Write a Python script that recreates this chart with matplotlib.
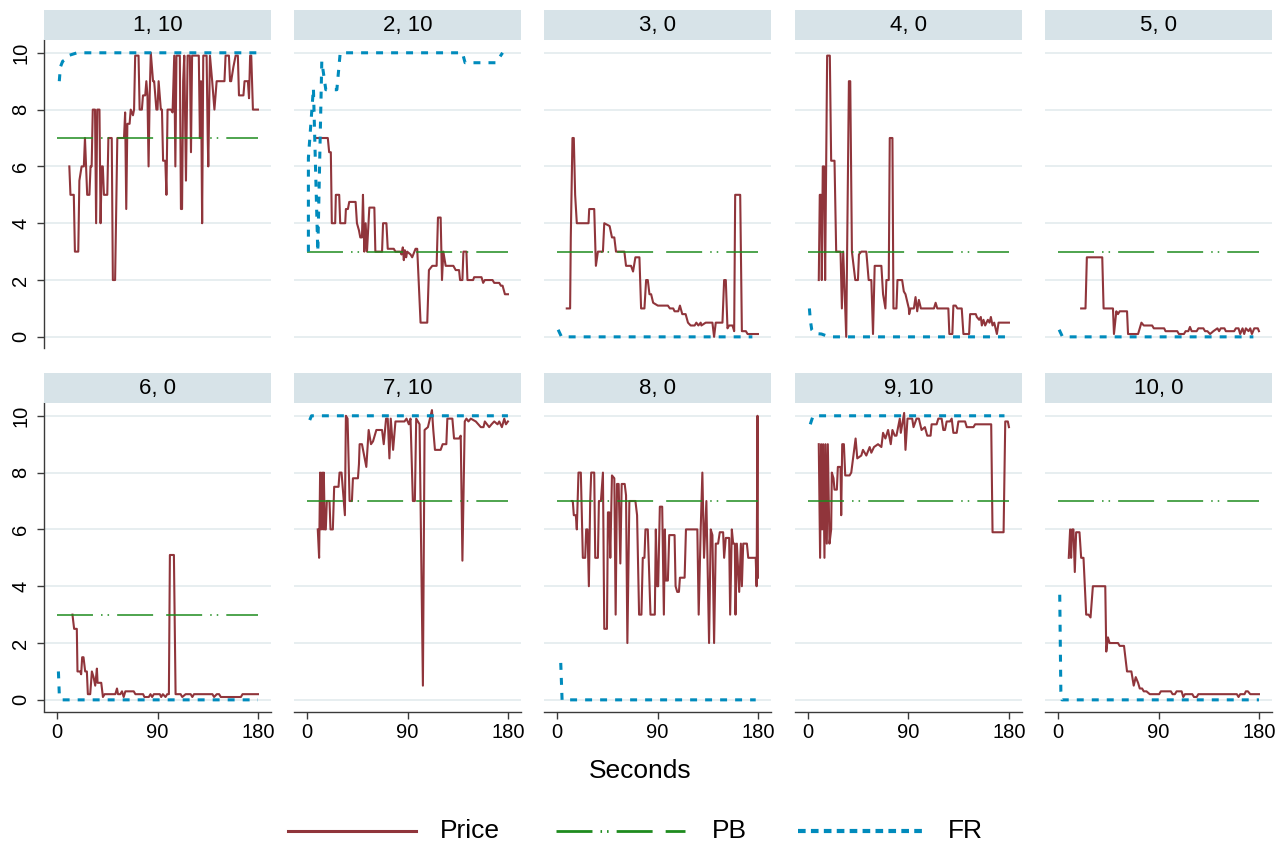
import matplotlib
matplotlib.use('Agg')
import matplotlib.pyplot as plt
from matplotlib.lines import Line2D
from matplotlib.patches import Rectangle

plt.rcParams['font.family'] = ['Liberation Sans', 'DejaVu Sans']
plt.rcParams['lines.scale_dashes'] = False

# ---------------- data ----------------
panel_titles = ["1, 10", "2, 10", "3, 0", "4, 0", "5, 0",
                "6, 0", "7, 10", "8, 0", "9, 10", "10, 0"]
pb_values = [7, 3, 3, 3, 3, 3, 7, 7, 7, 7]
x_ticks = [0, 90, 180]
y_ticks = [0, 2, 4, 6, 8, 10]
legend_labels = ["Price", "PB", "FR"]

p1_t = [11, 12, 15, 16, 19, 20, 22, 24, 25, 27, 29, 30, 31, 32, 34, 35, 36, 38, 39, 40, 41, 42, 45, 46, 49, 50, 52, 54,
        60, 61, 62, 63, 65, 66, 68, 69, 70, 73, 74, 76, 77, 79, 80, 81, 82, 83, 84, 86, 87, 89, 90, 91, 93, 94, 95, 97,
        98, 99, 102, 103.5, 105, 106, 107, 110, 111, 112, 113, 114, 115.5, 117, 119, 120, 121, 127, 128, 129, 130, 131,
        134, 135, 135.5, 137, 139, 141, 143, 150, 151, 154, 155, 156, 158, 160, 162, 163, 167, 168, 171, 172, 173, 174,
        175.5, 180]
p1_y = [6, 5, 5, 3, 3, 5.5, 6, 6, 7, 5, 5, 6, 6, 8, 8, 4, 8, 8, 4, 6, 6, 5, 5, 7, 7, 2, 2, 7,
        7, 7.9, 4.5, 7.5, 7.5, 8, 7.8, 8, 9.9, 9.9, 8, 8, 8.5, 8.5, 9, 8.5, 6, 8.5, 10, 9, 9, 8, 8, 9, 8, 8, 6.2, 6.2,
        5, 8, 8, 7.9, 9.9, 6, 9.9, 9.9, 4.5, 4.5, 9, 9.9, 5.5, 9.9, 9.9, 6.5, 9.9, 9.9, 7, 9, 4, 9.9,
        9.9, 7, 6, 9.9, 9, 8, 9, 9, 9.9, 9.9, 9, 9, 9.5, 9.9, 9.9, 8.5, 8.5, 9, 9, 8.4, 9.9, 9.9,
        8, 8]
f1_t = [2, 3, 5, 7, 10, 18, 180]
f1_y = [9.0, 9.5, 9.7, 9.75, 9.9, 10, 10]

p2_t = [8, 18.6, 19.8, 21.3, 22.2, 25.2, 25.8, 28.8, 29.7, 34.2, 34.8, 36.6, 37.8, 43.5, 44.7, 46.5, 47.7, 49.2,
        50.1, 51.3, 52.5, 53.7, 55.8, 60.3, 61.2, 67.2, 68.1, 71.1, 72.3, 77.7, 79.2, 83.7, 84.6, 85.8, 86.7, 87.6,
        88.8, 89.7, 92.7, 94.2, 97.2, 98.7, 101.7, 107.7, 109.2, 112.2, 116.1, 117.3, 119.7, 120.9, 122.1, 124.2,
        131.1, 133.2, 136.2, 137.1, 139.2, 140.1, 142.8, 143.7, 148.8, 149.7, 156.3, 157.8, 159.3, 166.2, 167.7,
        172.2, 173.7, 175.2, 177.3, 180]
p2_y = [7, 7, 6.5, 6.5, 4, 4, 5, 5, 4, 4, 4.5, 4.5, 4.75, 4.75, 4, 3.75, 3.5, 3.5,
        5, 3, 4, 3, 4.55, 4.55, 3, 3, 4, 4, 3.1, 3.1, 3, 3, 2.9, 3.15, 2.7, 3.05,
        2.8, 3.0, 2.9, 2.8, 3.1, 3.1, 0.5, 0.5, 2.35, 2.5, 2.5, 4.2, 4.2, 2, 3, 2.5,
        2.5, 2.35, 2.35, 2, 2, 3, 3, 2, 2, 2.1, 2.1, 1.9, 2.0, 2.0, 1.9,
        1.9, 1.8, 1.8, 1.5, 1.5]
f2_t = [1.2, 1.2, 5.7, 9.6, 13.2, 16.8, 26.7, 29.7, 35.7, 139.2, 141.6, 169.2, 175.2]
f2_y = [3, 6.3, 8.75, 3, 9.7, 8.7, 8.7, 10, 10, 10, 9.65, 9.65, 10]

p3_t = [8.7, 11.7, 12.3, 13.8, 15, 16.2, 17.7, 28.2, 28.8, 33.3, 34.8, 36.6, 41.1, 42.3, 47.1, 49.2, 51.3, 52.8,
        60.3, 61.8, 66.3, 68.1, 70.2, 73.8, 75.3, 78.3, 79.8, 81.3, 82.8, 84.3, 86.1, 90.3, 99.3, 101.1, 104.1, 105.3,
        108.6, 110.1, 112.2, 115.2, 117.3, 119.7, 123.3, 124.8, 126.6, 128.7, 129.3, 133.2, 139.2, 140.7, 142.2,
        148.2, 149.7, 151.2, 152.7, 154.2, 157.2, 158.7, 159.6, 164.1, 165.6, 169.2, 170.7, 180]
p3_y = [1, 1, 3.5, 7, 7, 5, 4, 4, 4.5, 4.5, 2.5, 3, 3, 4, 3.9, 3.5, 3.5, 3,
        3, 2.5, 2.5, 2.3, 2.8, 2.8, 1, 1, 2, 2, 1.5, 1.5, 1.2, 1.1, 1.1, 1, 1, 0.9,
        0.9, 1.1, 0.8, 0.8, 0.5, 0.4, 0.4, 0.5, 0.4, 0.5, 0.4, 0.5, 0.5, 0, 0.5,
        0.5, 2, 2, 0.3, 0.4, 0.4, 0.2, 5, 5, 0.2, 0.2, 0.1, 0.1]
f3_t = [1, 4, 175]
f3_y = [0.25, 0, 0]

p4_t = [9.6, 10.5, 11.7, 12.3, 13.2, 14.4, 15.3, 17.1, 19.5, 20.7, 23.7, 25.2, 29.1, 30.3, 31.5, 34.2, 36.6, 37.8,
        39.3, 40.8, 42.3, 44.7, 45.6, 47.7, 52.2, 54.3, 56.7, 58.2, 59.7, 65.7, 67.2, 69.3, 70.2, 72.3, 73.2, 75.6,
        76.5, 79.2, 80.1, 84.3, 85.8, 87.3, 90.3, 90.6, 91.8, 94.8, 96.3, 97.8, 99.3, 101.1, 112.8, 114.3, 115.8,
        125.7, 126.6, 129.3, 130.2, 132.3, 133.8, 137.7, 139.2, 144.3, 145.2, 150.3, 151.2, 153.3, 154.8, 155.7,
        157.2, 158.7, 161.1, 162.6, 163.8, 165.3, 166.8, 169.2, 170.7, 180]
p4_y = [2, 5, 5, 2, 6, 6, 2, 9.9, 9.9, 6.2, 6.2, 3, 3, 1, 3, 0, 9, 9,
        3, 2.5, 2, 2, 2.9, 3, 3, 2, 2, 0.1, 2.5, 2.5, 1.5, 1, 2, 2, 7, 7,
        1, 1, 2, 2, 1.6, 1.5, 1, 0.8, 1, 1, 1.4, 0.9, 1.3, 1, 1, 1.2, 1,
        1, 0.1, 0.1, 1.1, 1.1, 1, 1, 0.1, 0.1, 0.8, 0.8, 0.7, 0.6, 0.7, 0.4,
        0.6, 0.4, 0.6, 0.5, 0.7, 0.4, 0.5, 0.1, 0.5, 0.5]
f4_t = [1.2, 2, 3.3, 6, 12, 19, 180]
f4_y = [1.0, 0.6, 0.25, 0.12, 0.1, 0, 0]

p5_t = [20.7, 24.6, 25.8, 39.6, 40.8, 49.2, 50.1, 52.2, 53.7, 55.2, 61.8, 62.7, 71.7, 74.7, 76.8, 84.3, 85.8, 95.1,
        96.3, 106.8, 108.3, 112.8, 114.3, 116.7, 118.2, 119.7, 124.2, 125.7, 130.2, 131.7, 133.8, 136.2, 139.2,
        142.8, 144.3, 145.8, 149.1, 150.3, 157.8, 159.3, 161.7, 163.2, 165.3, 166.8, 168.3, 170.7, 172.2, 173.7,
        175.8, 179, 180]
p5_y = [1, 1, 2.8, 2.8, 1, 1, 0.1, 0.9, 0.8, 0.9, 0.9, 0.1, 0.1, 0.5, 0.4, 0.4, 0.3, 0.3,
        0.2, 0.2, 0.1, 0.1, 0.2, 0.2, 0.35, 0.2, 0.2, 0.3, 0.3, 0.2, 0.2, 0.1, 0.2,
        0.3, 0.2, 0.3, 0.3, 0.2, 0.2, 0.3, 0.3, 0.1, 0.3, 0.1, 0.3, 0.2, 0.3, 0.1,
        0.3, 0.3, 0.2]
f5_t = [1, 4, 175]
f5_y = [0.25, 0, 0]

p6_t = [13.8, 15.3, 17.7, 18.3, 20.7, 21.6, 22.5, 23.7, 25.2, 26.7, 27.6, 29.7, 31.2, 32.7, 34.2, 35.7, 36.3, 39.6,
        41.1, 42.6, 52.2, 53.7, 54.6, 56.7, 58.2, 59.7, 61.2, 68.7, 70.2, 77.1, 78.3, 82.2, 83.7, 85.2, 86.7, 92.1,
        93.3, 94.8, 97.2, 98.7, 100.2, 101.1, 104.7, 106.2, 110.7, 112.2, 115.2, 119.7, 121.2, 122.7, 139.2, 140.7,
        143.1, 145.2, 146.7, 164.7, 166.2, 180]
p6_y = [3, 2.5, 2.5, 1, 1, 0.9, 1.5, 1.5, 1, 1, 0.2, 0.2, 1, 0.8, 0.5, 1.1, 0.6, 0.6,
        0.1, 0.2, 0.2, 0.4, 0.2, 0.2, 0.3, 0.1, 0.3, 0.3, 0.2, 0.2, 0.1, 0.1, 0.2, 0.1, 0.2, 0.2,
        0.1, 0.2, 0.1, 0.2, 0.2, 5.1, 5.1, 0.2, 0.2, 0.1, 0.2, 0.2, 0.1, 0.2, 0.2, 0.1,
        0.2, 0.2, 0.1, 0.1, 0.2, 0.2]
f6_t = [1.2, 2, 4, 180]
f6_y = [1.0, 0.2, 0, 0]

p7_t = [9.6, 10.8, 11.7, 12.6, 13.5, 14.4, 15, 15.9, 16.8, 17.7, 20.1, 21, 23.1, 24.3, 28.2, 29.1, 30.9, 33.9,
        34.8, 36.3, 38.1, 40.2, 41.1, 45.6, 46.5, 47.1, 49.2, 53.1, 55.2, 57.3, 59.1, 62.1, 67.2, 68.7, 70.8, 72.3,
        73.8, 75, 77.1, 79.2, 87.3, 89.1, 91.2, 92.7, 94.8, 96.6, 97.8, 100.8, 103.8, 105.3, 108.3, 110.1, 111.9,
        113.1, 114.6, 119.7, 121.5, 124.8, 125.7, 130.2, 131.7, 136.2, 137.7, 139.2, 141.3, 142.8, 144.6, 146.7,
        151.2, 155.7, 158.1, 159.3, 163.2, 165.3, 167.7, 170.7, 172.2, 174.6, 176.7, 178.2, 180]
p7_y = [6, 5, 8, 6, 8, 6, 8, 6, 6, 7, 7, 6, 6, 7.5, 7.5, 8, 8, 6.5,
        10, 9.9, 7, 7, 7.8, 7.8, 8.3, 9, 9, 8.2, 9.5, 9, 9.1, 9.5, 9.5, 9, 9.9, 9.9,
        8.5, 9.9, 8.8, 9.8, 9.8, 9.9, 9.7, 9.9, 7, 7, 9.9, 9.7, 0.5, 9.5, 9.6, 9.9, 10.2,
        9.5, 8.8, 8.8, 9, 9, 9.9, 9.9, 9.2, 9.2, 9.3, 4.9, 9.8, 9.9, 9.8, 9.9,
        9.8, 9.6, 9.6, 9.8, 9.6, 9.7, 9.8, 9.7, 9.8, 9.6, 9.9, 9.7, 9.8]
f7_t = [2.4, 4, 180]
f7_y = [9.85, 10, 10]

p8_t = [13.2, 14.1, 15, 16.8, 17.7, 19.2, 21.3, 23.1, 25.2, 26.1, 27.3, 28.5, 29.7, 30.6, 33.3, 34.2, 36.6, 37.5,
        39.3, 41.1, 42.3, 44.7, 45.6, 46.8, 47.7, 49.2, 51.3, 52.5, 53.7, 55.2, 56.7, 57.9, 60.6, 61.8, 63, 64.8,
        70.2, 71.7, 73.5, 75.6, 76.8, 78.3, 79.2, 81.3, 83.7, 87.6, 88.5, 89.7, 90.6, 92.1, 94.2, 95.7, 96.6, 97.5,
        99.3, 100.5, 105.3, 106.2, 107.7, 109.2, 110.1, 114.3, 115.5, 125.7, 126.9, 128.7, 130.2, 131.7, 133.8,
        136.2, 137.7, 139.2, 140.7, 142.2, 144.3, 145.8, 148.8, 149.7, 151.2, 154.2, 155.1, 156.6, 157.8, 159.3,
        159.9, 161.1, 163.2, 164.7, 165.6, 166.8, 170.1, 171.3, 178, 178.8, 179.6, 180]
p8_y = [7, 7, 6.5, 6.5, 6, 8, 8, 5, 5, 6, 6, 4, 7, 8, 8, 5, 5, 7,
        7, 8, 2.5, 2.5, 6.6, 6.6, 5, 7.9, 7.8, 3, 7.6, 7.6, 4.8, 7.6, 7.6, 7.2, 2, 7,
        7, 6.5, 3, 3, 5, 5, 6, 6, 3, 3, 6, 4, 4, 6.8, 6.8, 3, 6, 4.2,
        4.2, 5.8, 5.8, 4, 3.8, 3.8, 4.3, 4.3, 6, 6, 3, 6, 8, 5, 7,
        2, 6, 5.8, 2, 5.5, 5.5, 5.9, 5.9, 5, 5.7, 5.7, 3, 6, 5.5, 5.5,
        3, 5.5, 3.8, 5.5, 4, 5.5, 5.5, 5, 5, 4, 10, 4.3]
f8_t = [3.3, 4.5, 178]
f8_y = [1.3, 0, 0]

p9_t = [9.6, 10.8, 11.7, 12.6, 13.5, 14.7, 15.6, 16.8, 17.7, 19.2, 20.7, 21.3, 22.8, 23.7, 25.8, 26.7, 29.1, 29.7,
        30.6, 32.1, 33.3, 37.2, 38.7, 42.6, 44.1, 47.7, 49.2, 52.2, 55.2, 56.7, 59.1, 62.7, 65.7, 67.2, 69.3, 71.7,
        74.1, 75.6, 77.7, 79.2, 82.2, 83.1, 86.1, 87.3, 89.1, 93.3, 94.5, 97.2, 99.3, 101.7, 104.7, 106.8, 109.8,
        110.7, 115.2, 116.7, 119.7, 121.2, 122.7, 124.2, 127.2, 128.7, 130.2, 133.2, 134.7, 140.7, 142.2, 148.2,
        149.7, 164.1, 165.3, 175.2, 176.7, 179, 180]
p9_y = [9, 5, 9, 6, 9, 5, 9, 5.5, 9, 5.5, 6, 8, 7.8, 7.4, 7.4, 8.2, 8.2, 6.5,
        9, 9, 7.9, 7.9, 8, 9.2, 8.5, 8.6, 8.8, 8.6, 8.9, 8.7, 8.9, 9.0, 8.9, 9.4, 9.2, 9.5,
        9.0, 9.5, 9.3, 9.3, 9.9, 9.4, 10.1, 8.8, 9.9, 9.9, 9.6, 9.9, 9.9, 9.5, 9.6, 9.3, 9.3,
        9.7, 9.7, 9.9, 9.9, 9.5, 9.5, 9.8, 9.8, 9.9, 9.4, 9.4, 9.8, 9.8, 9.6, 9.6,
        9.7, 9.7, 5.9, 5.9, 9.8, 9.8, 9.6]
f9_t = [2, 4.5, 176]
f9_y = [9.7, 10, 10]

p10_t = [9.6, 10.8, 11.7, 12.6, 13.8, 15, 16.2, 19.2, 20.7, 21.6, 22.8, 25.2, 27.3, 29.1, 31.2, 42.3, 43.2, 44.7,
         46.2, 53.7, 55.2, 59.1, 60.6, 61.8, 65.7, 67.8, 69.6, 71.7, 73.2, 75.3, 76.8, 79.2, 82.2, 90.6, 92.1, 101.1,
         102.6, 104.7, 106.2, 110.7, 112.2, 113.7, 120.3, 121.8, 124.2, 125.7, 160.2, 161.7, 163.2, 167.1, 168.3,
         170.1, 172.2, 180]
p10_y = [5, 6, 5, 6, 6, 4.5, 5.9, 5.9, 5, 5, 5, 3, 3, 2.9, 4, 4, 1.7, 2.2,
         2, 2, 1.9, 1.9, 1.4, 1, 1, 0.5, 0.8, 0.6, 0.4, 0.4, 0.3, 0.3, 0.2, 0.2, 0.3, 0.3,
         0.2, 0.2, 0.3, 0.3, 0.1, 0.2, 0.2, 0.1, 0.1, 0.2, 0.2, 0.1, 0.2, 0.2, 0.3,
         0.3, 0.2, 0.2]
f10_t = [1.5, 2.5, 3.5, 180]
f10_y = [3.7, 0.3, 0, 0]

price_t = [p1_t, p2_t, p3_t, p4_t, p5_t, p6_t, p7_t, p8_t, p9_t, p10_t]
price_y = [p1_y, p2_y, p3_y, p4_y, p5_y, p6_y, p7_y, p8_y, p9_y, p10_y]
fr_t = [f1_t, f2_t, f3_t, f4_t, f5_t, f6_t, f7_t, f8_t, f9_t, f10_t]
fr_y = [f1_y, f2_y, f3_y, f4_y, f5_y, f6_y, f7_y, f8_y, f9_y, f10_y]

# ---------------- style ----------------
C_PRICE = '#90353B'
C_PB = '#1E8B1E'
C_FR = '#008BBC'
C_STRIP = '#D7E3E8'
C_GRID = '#E3EBEE'
C_AXIS = '#3A3A3A'
PB_DASH = [25.9, 5.8, 1.1, 3.6, 1.1, 5.8, 25.9, 9.4]
FR_DASH = [5.0, 5.8]

W, H = 1287, 850
fig = plt.figure(figsize=(W / 100, H / 100), dpi=100)
fig.patch.set_facecolor('white')

col_left = [44, 294, 544, 795, 1045]
col_w = 227
row_top = [40, 403]
row_h = 308.5
hdr_h = 30

for i in range(10):
    r, c = divmod(i, 5)
    left = col_left[c]
    top = row_top[r]
    ax = fig.add_axes([left / W, 1 - (top + row_h) / H, col_w / W, row_h / H])
    ax.set_xlim(-11.7, 191.7)
    ax.set_ylim(-0.41, 10.45)
    ax.set_facecolor('white')
    ax.set_yticks(y_ticks)
    ax.set_xticks(x_ticks)
    ax.grid(axis='y', color=C_GRID, linewidth=1.2)
    ax.grid(axis='x', visible=False)
    ax.set_axisbelow(True)
    for s in ['top', 'right']:
        ax.spines[s].set_visible(False)
    ax.spines['left'].set_visible(c == 0)
    ax.spines['bottom'].set_visible(r == 1)
    for s in ['left', 'bottom']:
        ax.spines[s].set_color(C_AXIS)
        ax.spines[s].set_linewidth(1.0)
    ax.tick_params(axis='both', colors=C_AXIS, labelcolor='black', length=5, width=1.0, labelsize=14.5)
    ax.tick_params(axis='y', left=(c == 0), labelleft=(c == 0), pad=5)
    ax.tick_params(axis='x', bottom=(r == 1), labelbottom=(r == 1), pad=3)
    if c == 0:
        for lab in ax.get_yticklabels():
            lab.set_rotation(90)
            lab.set_va('center')

    ax.plot(price_t[i], price_y[i], color=C_PRICE, lw=1.5, zorder=3)
    ax.plot([0, 180], [pb_values[i], pb_values[i]], color=C_PB, lw=1.1,
            dashes=PB_DASH, dash_capstyle='butt', zorder=4)
    ax.plot(fr_t[i], fr_y[i], color=C_FR, lw=2.2, dashes=FR_DASH,
            dash_capstyle='butt', zorder=5)

    # strip header
    fig.add_artist(Rectangle((left / W, 1 - top / H), col_w / W, hdr_h / H,
                             transform=fig.transFigure, facecolor=C_STRIP, edgecolor='none'))
    fig.text((left + col_w / 2) / W, 1 - (top - hdr_h / 2) / H, panel_titles[i],
             ha='center', va='center', fontsize=16)

fig.text(640 / W, 1 - 771 / H, 'Seconds', ha='center', va='center', fontsize=19)

# legend
ly = 1 - 831 / H
leg_items = [
    (288, 416, 440, dict(color=C_PRICE, lw=2.2)),
    (556, 685, 712, dict(color=C_PB, lw=2.0, dashes=PB_DASH, dash_capstyle='butt')),
    (798, 926, 948, dict(color=C_FR, lw=3.0, dashes=[5.5, 3.8], dash_capstyle='butt')),
]
for (x0, x1, xt, kw), lab in zip(leg_items, legend_labels):
    fig.add_artist(Line2D([x0 / W, x1 / W], [ly, ly], transform=fig.transFigure, **kw))
    fig.text(xt / W, ly, lab, ha='left', va='center', fontsize=19)

fig.savefig('out.png', dpi=100)
